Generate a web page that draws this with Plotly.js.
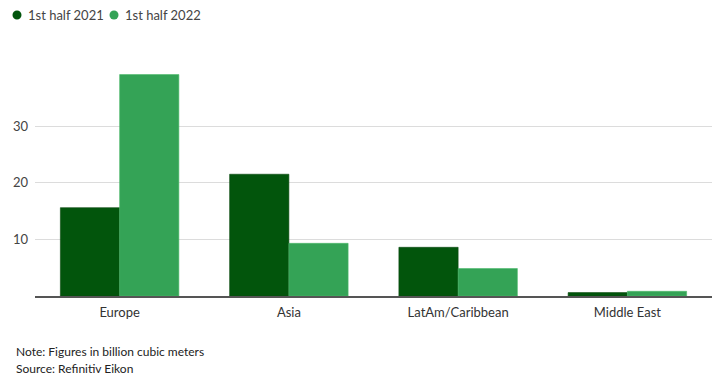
<!DOCTYPE html>
<html>
<head>
<meta charset="utf-8">
<script src="https://cdn.plot.ly/plotly-3.0.1.min.js"></script>
<style>html,body{margin:0;padding:0;background:#fff;}#chart{width:720px;height:384px;}</style>
</head>
<body>
<div id="chart"></div>
<script>
var categories = ["Europe", "Asia", "LatAm/Caribbean", "Middle East"];
var series2021 = [15.6, 21.5, 8.6, 0.6];
var series2022 = [39.1, 9.3, 4.85, 0.83];
var seriesNames = ["1st half 2021", "1st half 2022"];
var yTicks = [10, 20, 30];

var darkGreen = "#02550c";
var lightGreen = "#34a356";
var seriesColors = [darkGreen, lightGreen];
var font = "Lato, 'Source Sans Pro', 'Open Sans', sans-serif";

// plot area in pixels: x 35..712, y 74..296
var PL = 35, PR = 712, PT = 74, PB = 296;
function px(x) { return (x - PL) / (PR - PL); }
function py(y) { return (PB - y) / (PB - PT); }

var data = [
  {type: "bar", x: categories, y: series2021, name: seriesNames[0],
   marker: {color: darkGreen, line: {color: "#0b4a10", width: 0.6}}, hoverinfo: "skip"},
  {type: "bar", x: categories, y: series2022, name: seriesNames[1],
   marker: {color: lightGreen, line: {color: "#4cb96a", width: 0.6}}, hoverinfo: "skip"}
];

// manual legend: dot + label
var legendDotX = [17, 114];
var legendY = 15;
var shapes = [];
var annotations = [];
for (var i = 0; i < seriesNames.length; i++) {
  shapes.push({type: "circle", xref: "paper", yref: "paper",
    x0: px(legendDotX[i] - 4.5), x1: px(legendDotX[i] + 4.5),
    y0: py(legendY + 4.5), y1: py(legendY - 4.5),
    fillcolor: seriesColors[i], line: {width: 0}});
  annotations.push({xref: "paper", yref: "paper", x: px(legendDotX[i] + 9), y: py(legendY),
    xanchor: "left", yanchor: "middle", text: seriesNames[i], showarrow: false,
    font: {size: 13, color: "#444", family: font}});
}
annotations.push(
  {xref: "paper", yref: "paper", x: px(14), y: py(351), xanchor: "left", yanchor: "middle",
   text: "Note: Figures in billion cubic meters", showarrow: false, font: {size: 12, color: "#222", family: font}},
  {xref: "paper", yref: "paper", x: px(14), y: py(368), xanchor: "left", yanchor: "middle",
   text: "Source: Refinitiv Eikon", showarrow: false, font: {size: 12, color: "#222", family: font}}
);

var layout = {
  width: 720, height: 384,
  margin: {l: PL, r: 720 - PR, t: PT, b: 384 - PB},
  paper_bgcolor: "#fff", plot_bgcolor: "#fff",
  font: {family: font, size: 13, color: "#333"},
  barmode: "group", bargap: 0.3, bargroupgap: 0,
  showlegend: false,
  xaxis: {type: "category", categoryorder: "array", categoryarray: categories,
          showgrid: false, showline: true, linecolor: "#555", linewidth: 1.5,
          ticks: "", tickfont: {size: 13, color: "#333"}, ticklabelstandoff: 4, fixedrange: true},
  yaxis: {range: [0, 39.2], tickvals: yTicks, ticktext: yTicks.map(String),
          showgrid: true, gridcolor: "#dcdcdc", gridwidth: 1, zeroline: false,
          showline: false, ticks: "", tickfont: {size: 13, color: "#444"},
          ticklabelstandoff: 6, fixedrange: true},
  shapes: shapes,
  annotations: annotations
};

Plotly.newPlot("chart", data, layout, {displayModeBar: false, staticPlot: true});
</script>
</body>
</html>
